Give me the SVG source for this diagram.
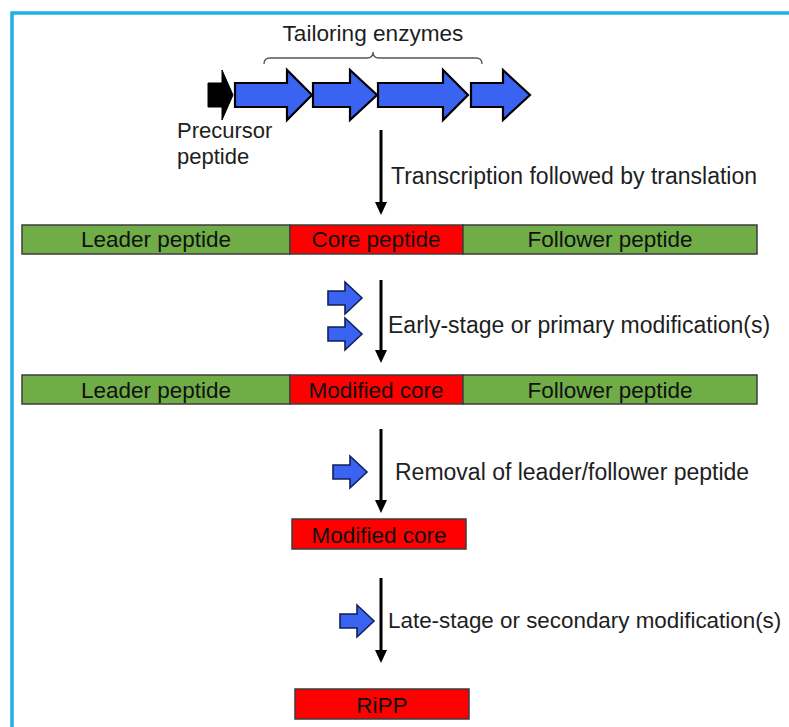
<svg xmlns="http://www.w3.org/2000/svg" width="789" height="727" viewBox="0 0 789 727">
<style>
  .t { font-family: "Liberation Sans", Arial, sans-serif; font-size: 22px; fill: #1e1e1e; }
  .s { font-family: "Liberation Sans", Arial, sans-serif; font-size: 23px; fill: #1e1e1e; }
  .bt { font-family: "Liberation Sans", Arial, sans-serif; font-size: 22.5px; fill: #111; text-anchor: middle; }
  .green { fill: #70ad47; stroke: #3c3c3c; stroke-width: 1.5; }
  .red { fill: #ff0000; stroke: #3c3c3c; stroke-width: 1.5; }
  .gene { fill: #3b63f2; stroke: #000; stroke-width: 2.2; stroke-linejoin: miter; }
  .small { fill: #3b63f2; stroke: #10205a; stroke-width: 1.6; }
  .conn { stroke: #000; stroke-width: 3; fill: none; }
</style>
<defs>
  <marker id="ah" markerUnits="userSpaceOnUse" viewBox="0 0 13 12" markerWidth="13" markerHeight="12" refX="7" refY="6" orient="auto">
    <path d="M0,0 L13,6 L0,12 Z" fill="#000"/>
  </marker>
  <path id="sa" d="M0,9 H17 V0 L34,16 L17,32 V23 H0 Z"/>
</defs>

<path d="M12,727 V13 H789" fill="none" stroke="#1fb0e8" stroke-width="3.5"/>

<g id="gene-cluster">
  <polygon points="208,83 222,83 222,70 233,95 222,120 222,107 208,107" fill="#000" stroke="#000" stroke-width="1"/>
  <polygon class="gene" points="235,83 287,83 287,70 312,95 287,120 287,107 235,107"/>
  <polygon class="gene" points="313,83 350,83 350,70 377,95 350,120 350,107 313,107"/>
  <polygon class="gene" points="378,83 443,83 443,70 468,95 443,120 443,107 378,107"/>
  <polygon class="gene" points="471,83 503,83 503,70 530,95 503,120 503,107 471,107"/>
</g>

<g id="tailoring-brace">
  <path d="M264,64 Q264,58 270,58 H367 Q373,58 373,52 Q373,58 379,58 H476 Q482,58 482,64" fill="none" stroke="#555" stroke-width="1.3"/>
  <text class="t" x="373" y="41" text-anchor="middle" style="font-size:22.6px">Tailoring enzymes</text>
</g>

<g id="precursor-label">
  <text class="t" x="177" y="138">Precursor</text>
  <text class="t" x="177" y="164">peptide</text>
</g>

<g id="precursor-peptide">
  <rect class="green" x="22" y="225" width="268" height="29"/>
  <rect class="red" x="290" y="225" width="173" height="29"/>
  <rect class="green" x="463" y="225" width="294" height="29"/>
  <text class="bt" x="156" y="247">Leader peptide</text>
  <text class="bt" x="376" y="247">Core peptide</text>
  <text class="bt" x="610" y="247">Follower peptide</text>
</g>

<g id="modified-precursor">
  <rect class="green" x="22" y="375" width="268" height="29"/>
  <rect class="red" x="290" y="375" width="173" height="29"/>
  <rect class="green" x="463" y="375" width="294" height="29"/>
  <text class="bt" x="156" y="398">Leader peptide</text>
  <text class="bt" x="376" y="398">Modified core</text>
  <text class="bt" x="610" y="398">Follower peptide</text>
</g>

<g id="modified-core">
  <rect class="red" x="292" y="519" width="174" height="30"/>
  <text class="bt" x="379" y="543">Modified core</text>
</g>

<g id="ripp">
  <rect class="red" x="295" y="689" width="174" height="30"/>
  <text class="bt" x="382" y="713">RiPP</text>
</g>

<g id="enzymes">
  <use href="#sa" class="small" x="328" y="282"/>
  <use href="#sa" class="small" x="328" y="318"/>
  <use href="#sa" class="small" x="333" y="456"/>
  <use href="#sa" class="small" x="340" y="605"/>
</g>

<g id="connectors">
  <line class="conn" x1="381" y1="130" x2="381" y2="209" marker-end="url(#ah)"/>
  <line class="conn" x1="381" y1="280" x2="381" y2="357" marker-end="url(#ah)"/>
  <line class="conn" x1="381" y1="429" x2="381" y2="507" marker-end="url(#ah)"/>
  <line class="conn" x1="381" y1="578" x2="381" y2="657" marker-end="url(#ah)"/>
  <text class="s" x="391" y="184">Transcription followed by translation</text>
  <text class="s" x="388" y="333">Early-stage or primary modification(s)</text>
  <text class="s" x="395" y="480">Removal of leader/follower peptide</text>
  <text class="s" x="388" y="628" style="font-size:22.4px">Late-stage or secondary modification(s)</text>
</g>
</svg>
